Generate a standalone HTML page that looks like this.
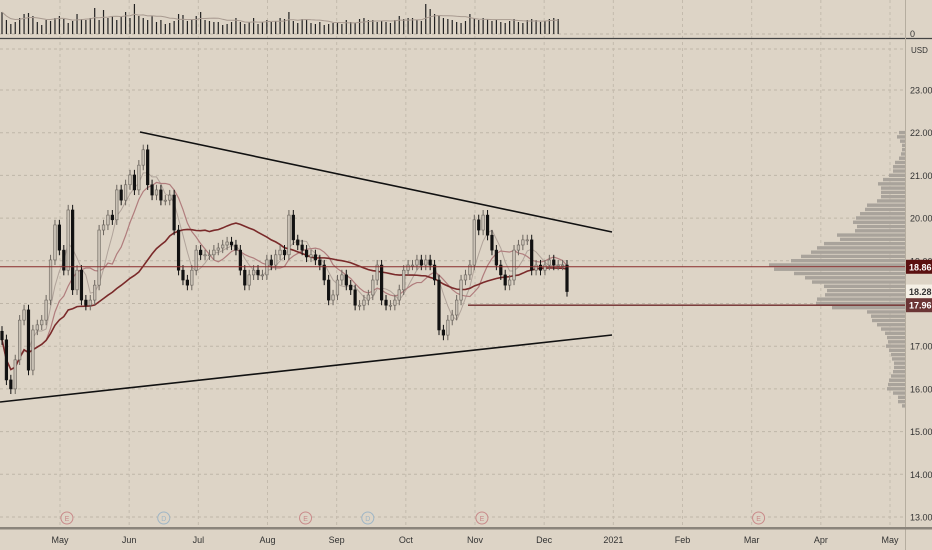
<!DOCTYPE html>
<html><head><meta charset="utf-8"><style>
html,body{margin:0;padding:0;background:#ddd4c6;}
svg{display:block;font-family:"Liberation Sans",sans-serif;}
</style></head><body>
<svg id="c" width="932" height="550" viewBox="0 0 932 550">
<rect x="0" y="0" width="932" height="550" fill="#ddd4c6"/>
<g id="grid"></g>
<g id="vol"></g>
<g id="vp"></g>
<g id="ma"></g>
<g id="candles"></g>
<g id="draw"></g>
<g id="axes"></g>
</svg>
<script>
const closes=[17.15,16.21,16.0,16.68,17.61,17.85,16.44,17.38,17.5,17.61,18.08,19.02,19.84,19.25,18.78,20.19,18.32,18.78,18.08,17.96,18.08,18.43,19.72,19.84,20.07,19.96,20.66,20.42,20.78,21.01,20.66,21.24,21.6,20.78,20.54,20.66,20.42,20.42,20.54,19.72,18.78,18.55,18.43,18.78,19.25,19.14,19.14,19.14,19.25,19.3,19.37,19.44,19.37,19.25,18.78,18.43,18.67,18.78,18.67,18.67,19.02,18.9,19.14,19.25,19.14,20.07,19.49,19.37,19.25,19.09,19.14,19.02,18.9,18.55,18.08,18.2,18.55,18.67,18.43,18.32,17.96,17.96,18.08,18.2,18.55,18.9,18.08,17.96,17.96,18.08,18.32,18.78,18.9,18.9,19.02,18.9,19.02,18.9,18.55,17.38,17.26,17.61,17.73,18.08,18.55,18.67,18.9,19.96,19.72,20.07,19.6,19.25,18.9,18.67,18.43,18.55,19.25,19.37,19.49,19.49,18.78,18.9,18.78,18.9,19.02,18.9,18.9,18.9,18.28];
const volumes=[22,14,10,12,16,20,21,18,12,9,14,13,16,18,15,11,13,20,15,14,16,26,14,24,16,18,14,17,22,16,30,18,16,14,18,12,14,10,11,13,20,19,13,15,18,22,14,13,12,12,9,10,12,16,12,10,12,16,10,12,14,12,13,16,15,22,13,11,15,14,11,10,12,9,10,11,12,10,14,12,11,15,16,14,14,12,13,12,11,14,18,15,16,16,14,13,30,25,20,18,16,15,14,12,11,13,20,16,14,16,15,13,14,12,11,13,15,12,11,14,15,14,12,13,15,16,15];
const vpPrices=[22.0,21.9,21.8,21.7,21.6,21.5,21.4,21.3,21.2,21.1,21.0,20.9,20.8,20.7,20.6,20.5,20.4,20.3,20.2,20.1,20.0,19.9,19.8,19.7,19.6,19.5,19.4,19.3,19.2,19.1,19.0,18.9,18.8,18.7,18.6,18.5,18.4,18.3,18.2,18.1,18.0,17.9,17.8,17.7,17.6,17.5,17.4,17.3,17.2,17.1,17.0,16.9,16.8,16.7,16.6,16.5,16.4,16.3,16.2,16.1,16.0,15.9,15.8,15.7,15.6];
const vpVolumes=[6,8,5,3,3,4,6,10,12,12,16,22,27,24,24,24,28,38,40,45,49,52,48,50,68,65,81,88,94,104,114,136,131,111,100,93,81,78,80,88,89,73,38,34,33,28,24,20,18,17,19,16,14,13,11,11,12,14,16,17,18,12,7,7,3];
const priceTicks=[23,22,21,20,19,18,17,16,15,14,13];
const monthLabels=["May","Jun","Jul","Aug","Sep","Oct","Nov","Dec","2021","Feb","Mar","Apr","May"];
const monthIndex=[0,1,2,3,4,5,6,7,8,9,10,11,12];
const events=[["E",0.1],["D",1.5],["E",3.55],["D",4.45],["E",6.1],["E",10.1]];
const hlines=[18.86,17.96];

const NS="http://www.w3.org/2000/svg";
function el(t,a,p){const e=document.createElementNS(NS,t);for(const k in a)e.setAttribute(k,a[k]);p.appendChild(e);return e;}
const AX=905;
const y=p=>90+(23-p)*42.7;
const xi=i=>2+i*(565/(closes.length-1));
const xm=m=>60+m*((890-60)/12);
const G=document.getElementById('grid');
priceTicks.forEach(p=>{const l=el('line',{x1:0,x2:AX,y1:y(p),y2:y(p),stroke:'#bfb6a8','stroke-dasharray':'3,3','stroke-width':1},G);});
el('line',{x1:0,x2:AX,y1:34,y2:34,stroke:'#bfb6a8','stroke-dasharray':'3,3'},G);
el('line',{x1:0,x2:AX,y1:49,y2:49,stroke:'#bfb6a8','stroke-dasharray':'3,3'},G);
monthIndex.forEach(m=>{const l=el('line',{x1:xm(m),x2:xm(m),y1:0,y2:528,stroke:'#c4bbad','stroke-dasharray':'3,3'},G);});
// volume
const V=document.getElementById('vol');
volumes.forEach((v,i)=>{if(i>=closes.length)return;const r=el('rect',{x:xi(i)-0.6,y:34-v,width:1.2,height:v,fill:'#222'},V);});
let vm=[];volumes.forEach((v,i)=>{const s=volumes.slice(Math.max(0,i-9),i+1);vm.push(s.reduce((a,b)=>a+b,0)/s.length);});
el('polyline',{points:vm.slice(0,closes.length).map((v,i)=>xi(i)+','+(34-v)).join(' '),fill:'none',stroke:'#a89a90','stroke-width':1},V);
el('line',{x1:0,x2:932,y1:38.5,y2:38.5,stroke:'#444','stroke-width':1.2},V);
// volume profile
const P=document.getElementById('vp');
vpPrices.forEach((p,i)=>{const w=vpVolumes[i];const r=el('rect',{x:AX-w,y:y(p)-1.8,width:w,height:3.4,fill:'#a9a39b'},P);});
// MAs
const M=document.getElementById('ma');
function ma(n){return closes.map((c,i)=>{const s=closes.slice(Math.max(0,i-n+1),i+1);return s.reduce((a,b)=>a+b,0)/s.length;});}
[[5,'#b0a39a',1],[10,'#b07d7d',1.2],[32,'#7a2a2a',1.6]].forEach(([n,col,w])=>{const l=el('polyline',{points:ma(n).map((v,i)=>xi(i)+','+y(v)).join(' '),fill:'none',stroke:col,'stroke-width':w},M);});
// candles
const C=document.getElementById('candles');
closes.forEach((c,i)=>{const o=i?closes[i-1]:c+0.2;const hi=Math.max(o,c)+0.12,lo=Math.min(o,c)-0.12;const up=c>=o;const x=xi(i);
const g=el('g',{},C);
el('line',{x1:x,x2:x,y1:y(hi),y2:y(lo),stroke:up?'#6b655e':'#111','stroke-width':1},g);
el('rect',{x:x-1.3,y:y(Math.max(o,c)),width:2.6,height:Math.max(1,Math.abs(y(o)-y(c))),fill:up?'#c9c1b5':'#111',stroke:up?'#6b655e':'#111','stroke-width':0.6},g);});
// drawings
const D=document.getElementById('draw');
let t=el('line',{x1:140,y1:132,x2:612,y2:232,stroke:'#111','stroke-width':1.6},D);
t=el('line',{x1:0,y1:402,x2:612,y2:335,stroke:'#111','stroke-width':1.6},D);
t=el('line',{x1:0,x2:AX,y1:y(hlines[0]),y2:y(hlines[0]),stroke:'#8a2c2c','stroke-width':1},D);
t=el('line',{x1:468,x2:AX,y1:y(hlines[1]),y2:y(hlines[1]),stroke:'#6e2a2a','stroke-width':1.4},D);
// axes
const A=document.getElementById('axes');
el('line',{x1:AX+0.5,x2:AX+0.5,y1:0,y2:550,stroke:'#b5ad9f'},A);
el('rect',{x:0,y:527,width:932,height:2.5,fill:'#8a847b'},A);
priceTicks.forEach(p=>{const tx=el('text',{x:910,y:y(p)+3.5,'font-size':9,fill:'#333'},A);tx.textContent=p.toFixed(2);});
let tx=el('text',{x:910,y:37,'font-size':9,fill:'#333'},A);tx.textContent='0';
tx=el('text',{x:911,y:53,'font-size':8,fill:'#333'},A);tx.textContent='USD';
monthIndex.forEach(m=>{const t2=el('text',{x:xm(m),y:543,'font-size':9,fill:'#333','text-anchor':'middle'},A);t2.textContent=monthLabels[m];});
function badge(v,bg,fg,nm){const g=el('g',{},A);
el('rect',{x:906,y:y(v)-7,width:26,height:14,fill:bg},g);const t3=el('text',{x:909,y:y(v)+3.5,'font-size':9,fill:fg,'font-weight':'bold'},g);t3.textContent=v.toFixed(2);}
badge(hlines[0],'#5a1010','#fff','resistance-price-badge');
badge(18.28,'#f5f0e6','#333','last-price-badge');
badge(hlines[1],'#6b3535','#fff','support-price-badge');
events.forEach(([l,m])=>{const g=el('g',{},A);const cx=xm(m);const col=l==='E'?'#c98a8a':'#9fb6c6';
el('circle',{cx:cx,cy:518,r:6,fill:'#ddd4c6',stroke:col,'stroke-width':1},g);const t4=el('text',{x:cx,y:521,'font-size':7,fill:col,'text-anchor':'middle'},g);t4.textContent=l;});
</script>
</body></html>
